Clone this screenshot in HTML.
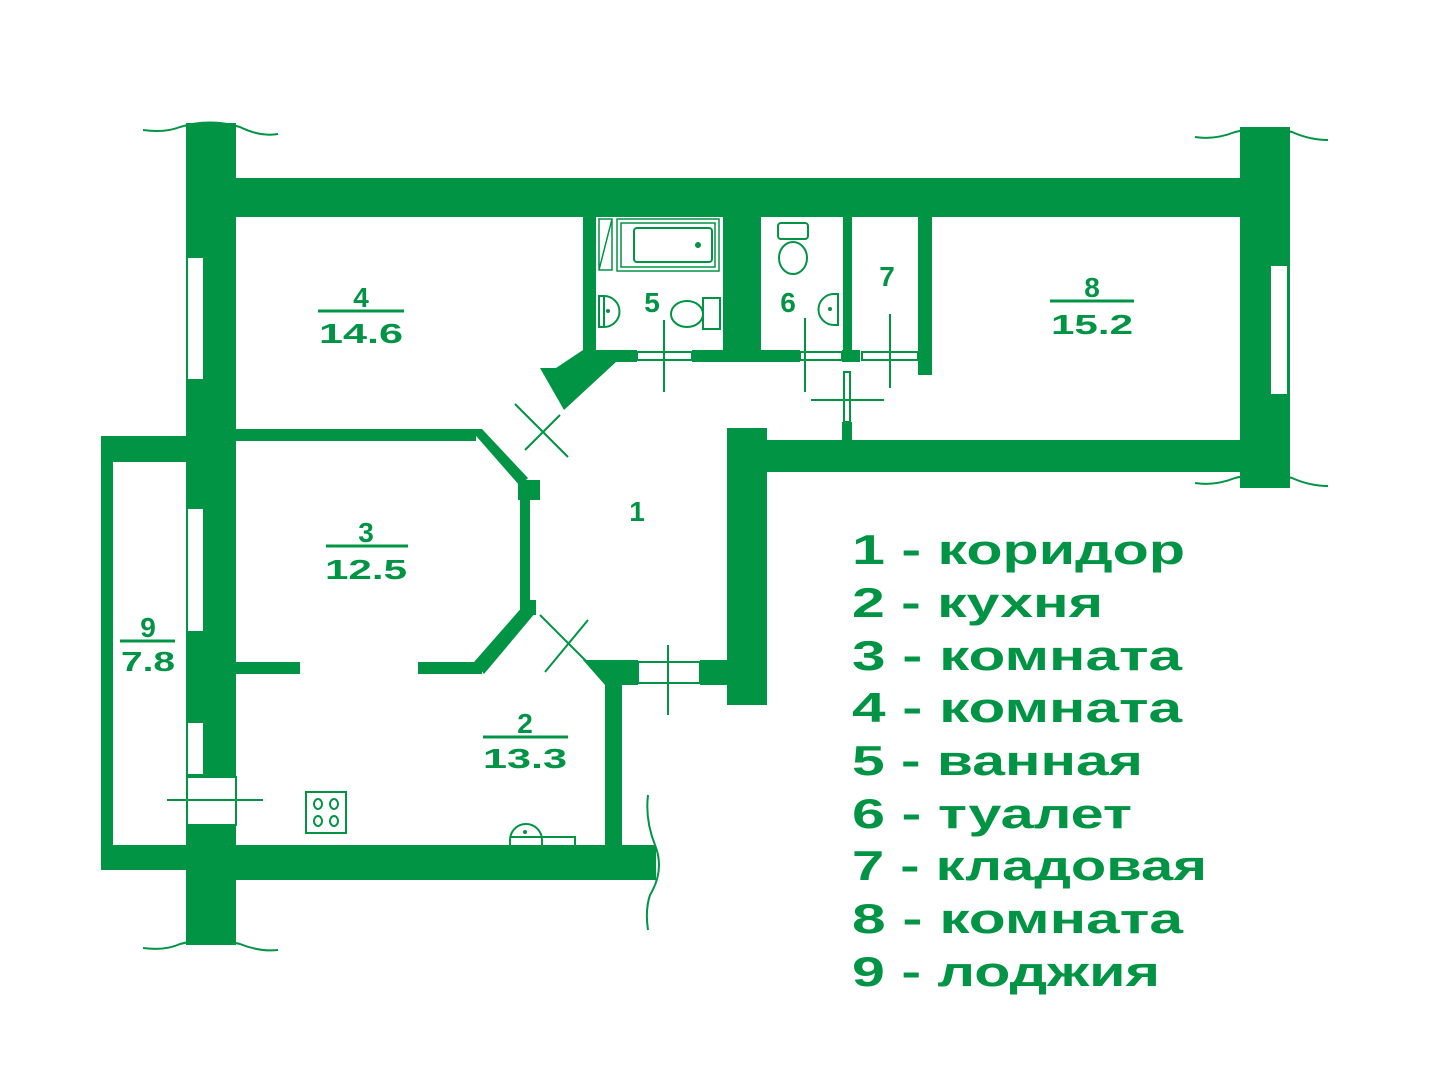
<!DOCTYPE html>
<html><head><meta charset="utf-8"><style>
html,body{margin:0;padding:0;background:#fff;}
svg{display:block;}
text{font-family:"Liberation Sans","DejaVu Sans",sans-serif;font-weight:bold;fill:#009444;}
</style></head><body>
<svg width="1442" height="1080" viewBox="0 0 1442 1080" xmlns="http://www.w3.org/2000/svg">
<g fill="#009444" stroke="none">
<rect x="186" y="123" width="50" height="822"/>
<rect x="186" y="178" width="1104" height="39"/>
<rect x="1240" y="127" width="50" height="361"/>
<rect x="727" y="440" width="563" height="32"/>
<rect x="727" y="428" width="40" height="277"/>
<rect x="186" y="845" width="470" height="35"/>
<rect x="101" y="436" width="86" height="26"/>
<rect x="101" y="436" width="12" height="434"/>
<rect x="101" y="845" width="86" height="25"/>
<rect x="236" y="429" width="240" height="12"/>
<polygon points="470,429 482,429 528,478 520,486"/>
<rect x="518" y="480" width="22" height="20"/>
<rect x="520" y="490" width="10" height="122"/>
<rect x="528" y="600" width="8" height="15"/>
<rect x="236" y="662" width="64" height="12"/>
<rect x="418" y="662" width="64" height="12"/>
<polygon points="474,662 484,674 536,612 524,605"/>
<polygon points="583,660 638,660 638,685 605,685"/>
<rect x="605" y="660" width="17" height="185"/>
<rect x="700" y="660" width="67" height="25"/>
<rect x="583" y="217" width="13" height="145"/>
<polygon points="540,368 556,368 583,350 616,350 616,362 564,410"/>
<rect x="583" y="350" width="54" height="12"/>
<rect x="692" y="350" width="108" height="12"/>
<rect x="723" y="217" width="38" height="145"/>
<rect x="842" y="350" width="18" height="12"/>
<rect x="843" y="217" width="9" height="145"/>
<rect x="918" y="217" width="14" height="158"/>
<rect x="842" y="422" width="10" height="20"/>
</g>
<g fill="#fff" stroke="#009444" stroke-width="2">
<rect x="187" y="257" width="17" height="123"/>
<rect x="187" y="508" width="17" height="124"/>
<rect x="187" y="722" width="17" height="53"/>
<rect x="187" y="777" width="49" height="48"/>
<rect x="1270" y="265" width="18" height="130"/>
<rect x="637" y="352" width="55" height="8"/>
<rect x="800" y="352" width="42" height="8"/>
<rect x="862" y="352" width="56" height="8"/>
<rect x="844" y="372" width="6" height="50"/>
<rect x="638" y="662" width="62" height="21"/>
</g>
<g stroke="#009444" stroke-width="2" fill="none">
<line x1="167" y1="800" x2="263" y2="800"/>
<line x1="664" y1="320" x2="664" y2="392"/>
<line x1="805" y1="318" x2="805" y2="392"/>
<line x1="890" y1="314" x2="890" y2="388"/>
<line x1="811" y1="400" x2="884" y2="400"/>
<line x1="668" y1="645" x2="668" y2="715"/>
<line x1="515" y1="404" x2="568" y2="457"/>
<line x1="525" y1="450" x2="560" y2="415"/>
<line x1="540" y1="615" x2="590" y2="665"/>
<line x1="545" y1="672" x2="588" y2="620"/>
<path d="M143 130 Q165 133 180 127 Q210 118 240 127 Q260 137 278 134"/>
<path d="M1195 137 Q1215 140 1235 132 Q1265 125 1292 132 Q1310 140 1328 140"/>
<path d="M143 948 Q165 951 180 944 Q210 936 240 944 Q260 952 278 950"/>
<path d="M1195 483 Q1215 486 1235 478 Q1265 470 1292 478 Q1310 486 1328 486"/>
<path d="M648 795 Q645 820 655 845 Q665 870 650 895 Q645 910 648 930"/>
<rect x="617" y="219" width="102" height="52" stroke-width="1.5"/>
<rect x="621" y="223" width="94" height="44" stroke-width="1.5"/>
<rect x="634" y="228" width="78" height="34" rx="3" stroke-width="2"/>
<path d="M599 219 H612 V270 H599 Z M612 219 L599 270" stroke-width="1.5"/>
<path d="M599 296 V327 H604 A15 15 0 0 0 604 296 Z"/>
<line x1="604" y1="296" x2="604" y2="327"/>
<ellipse cx="687" cy="314" rx="16" ry="13"/>
<rect x="703" y="298" width="17" height="31"/>
<path d="M838 294 V325 H834 A15 15 0 0 1 834 294 Z"/>
<rect x="778" y="223" width="30" height="16" rx="3"/>
<ellipse cx="793" cy="258" rx="14" ry="16"/>
<rect x="306" y="792" width="40" height="41"/>
<path d="M510 845 V840 A16 16 0 0 1 542 840 V845 M510 837 H575 V845"/>
</g>
<g fill="#009444">
<circle cx="698" cy="245" r="3"/><circle cx="608" cy="311" r="2"/><circle cx="830" cy="309" r="2"/><circle cx="525" cy="832" r="2"/>
</g>
<g fill="none" stroke="#009444" stroke-width="2">
<ellipse cx="318" cy="804" rx="4" ry="5"/><ellipse cx="334" cy="804" rx="4" ry="5"/>
<ellipse cx="318" cy="821" rx="4" ry="5"/><ellipse cx="334" cy="821" rx="4" ry="5"/>
</g>
<g stroke="#009444" stroke-width="3">
<line x1="318" y1="311" x2="404" y2="311"/>
<line x1="1050" y1="301" x2="1134" y2="301"/>
<line x1="326" y1="546" x2="408" y2="546"/>
<line x1="483" y1="737" x2="568" y2="737"/>
<line x1="120" y1="641" x2="175" y2="641"/>
</g>
<g font-size="28" text-anchor="middle" lengthAdjust="spacingAndGlyphs">
<text x="361" y="307">4</text><text x="361" y="343" textLength="84" lengthAdjust="spacingAndGlyphs">14.6</text>
<text x="1092" y="297">8</text><text x="1092" y="334" textLength="82" lengthAdjust="spacingAndGlyphs">15.2</text>
<text x="366" y="542">3</text><text x="366" y="579" textLength="82" lengthAdjust="spacingAndGlyphs">12.5</text>
<text x="525" y="733">2</text><text x="525" y="768" textLength="84" lengthAdjust="spacingAndGlyphs">13.3</text>
<text x="148" y="637">9</text><text x="148" y="671" textLength="54" lengthAdjust="spacingAndGlyphs">7.8</text>
<text x="637" y="521">1</text>
<text x="652" y="312">5</text><text x="788" y="312">6</text><text x="887" y="286">7</text>
</g>
<g font-size="42">
<text x="852" y="564" textLength="333" lengthAdjust="spacingAndGlyphs">1 - коридор</text>
<text x="852" y="617" textLength="251" lengthAdjust="spacingAndGlyphs">2 - кухня</text>
<text x="852" y="670" textLength="330" lengthAdjust="spacingAndGlyphs">3 - комната</text>
<text x="852" y="722" textLength="330" lengthAdjust="spacingAndGlyphs">4 - комната</text>
<text x="852" y="775" textLength="291" lengthAdjust="spacingAndGlyphs">5 - ванная</text>
<text x="852" y="828" textLength="280" lengthAdjust="spacingAndGlyphs">6 - туалет</text>
<text x="852" y="880" textLength="355" lengthAdjust="spacingAndGlyphs">7 - кладовая</text>
<text x="852" y="933" textLength="331" lengthAdjust="spacingAndGlyphs">8 - комната</text>
<text x="852" y="986" textLength="308" lengthAdjust="spacingAndGlyphs">9 - лоджия</text>
</g>
</svg>
</body></html>
